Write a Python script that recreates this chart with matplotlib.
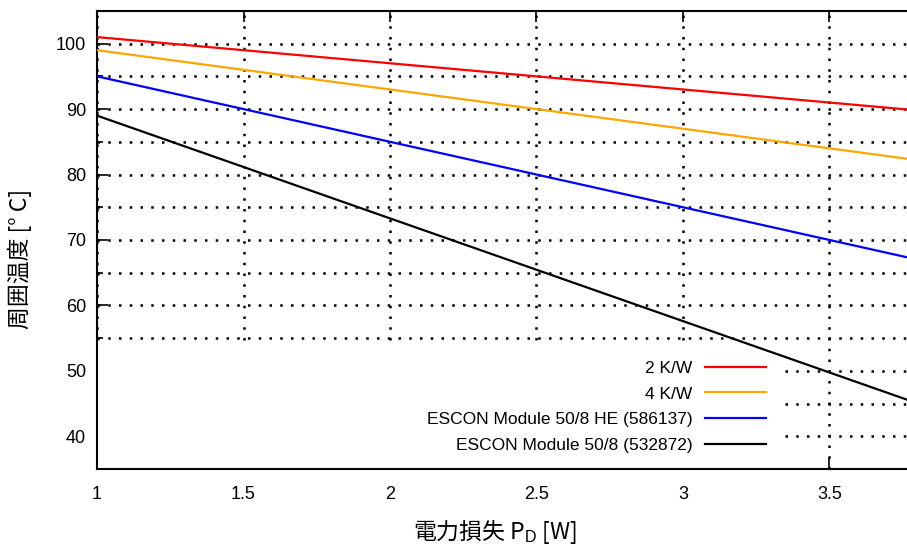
import numpy as np
import matplotlib
matplotlib.use('Agg')
import matplotlib.pyplot as plt
from matplotlib.patches import Rectangle

plt.rcParams['font.family'] = ['Liberation Sans', 'Noto Sans CJK JP', 'DejaVu Sans']
plt.rcParams['mathtext.fontset'] = 'custom'
plt.rcParams['mathtext.rm'] = 'Liberation Sans'

# data (lines are straight)
power = [1, 2, 3, 4]
t_2kw = [101, 97, 93, 89]
t_4kw = [99, 93, 87, 81]
t_he = [95, 85, 75, 65]
t_std = [89, 73.3, 57.6, 41.9]
labels = ['2 K/W', '4 K/W', 'ESCON Module 50/8 HE (586137)', 'ESCON Module 50/8 (532872)']
colors = ['#ff0000', '#ffa500', '#0000ff', '#000000']
xticks = [1, 1.5, 2, 2.5, 3, 3.5]
xticklabels = ['1', '1.5', '2', '2.5', '3', '3.5']

fig = plt.figure(figsize=(9.07, 5.46), dpi=100)
# axes runs past the right edge, like the cropped original
ax = fig.add_axes([0.107, 0.141, 0.969, 0.839])

for y, lab, c in zip([t_2kw, t_4kw, t_he, t_std], labels, colors):
    ax.plot(power, y, color=c, lw=1.6, label=lab, zorder=4)

ax.set_xlim(1, 4)
ax.set_ylim(35, 105)
ax.set_xticks(xticks)
ax.set_xticklabels(xticklabels)
ax.set_xticks([4], minor=True)
ax.set_yticks(np.arange(40, 101, 10))
ax.set_yticks(np.arange(45, 101, 10), minor=True)
ax.tick_params(which='both', direction='in', top=True, right=True, labelsize=13, width=1.2)
ax.tick_params(which='major', length=8)
ax.tick_params(which='minor', length=4)
ax.tick_params(axis='x', pad=12)
ax.tick_params(axis='y', pad=8)

ax.grid(which='both', color='black', linestyle=(0, (1, 3.3)), linewidth=1.8)
ax.set_axisbelow(True)
for s in ax.spines.values():
    s.set_linewidth(1.5)

# white key area covering the grid (gnuplot opaque key)
ax.add_patch(Rectangle((0, 0), 0.777, 0.27, transform=ax.transAxes,
                       facecolor='white', edgecolor='none', zorder=2.5))

leg = ax.legend(loc='lower right', bbox_to_anchor=(0.779, 0.0), markerfirst=False,
                frameon=False, fontsize=12.5, handlelength=3.5, handletextpad=0.75,
                labelspacing=0.62, borderaxespad=0.5)
leg.set_zorder(5)

fig.text(0.022, 0.525, '周囲温度 [° C]', family=['Noto Sans CJK JP', 'DejaVu Sans'],
         fontsize=16.5, rotation=90, ha='center', va='center')
fig.text(0.546, 0.025, r'電力損失 P$_\mathrm{D}$ [W]', family='Noto Sans CJK JP',
         fontsize=16.5, ha='center', va='center')

plt.savefig('out.png', dpi=100)
